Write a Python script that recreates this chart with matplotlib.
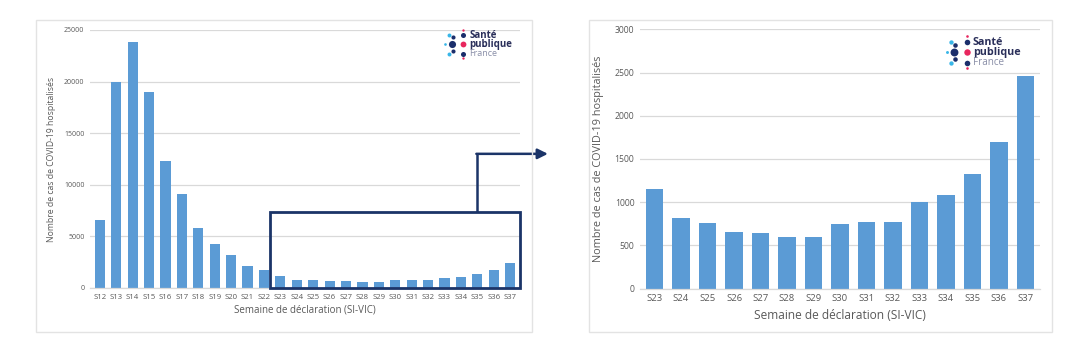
import matplotlib
matplotlib.use("Agg")
import matplotlib.pyplot as plt
from matplotlib.patches import Rectangle

plt.rcParams['font.family'] = ['Open Sans', 'DejaVu Sans']

# ---- data ----
weeks_all = ["S12", "S13", "S14", "S15", "S16", "S17", "S18", "S19", "S20", "S21", "S22",
             "S23", "S24", "S25", "S26", "S27", "S28", "S29", "S30", "S31", "S32",
             "S33", "S34", "S35", "S36", "S37"]
cases_early = [6550, 20000, 23800, 19000, 12300, 9150, 5850, 4250, 3200, 2150, 1700]
weeks_zoom = ["S23", "S24", "S25", "S26", "S27", "S28", "S29", "S30", "S31", "S32",
              "S33", "S34", "S35", "S36", "S37"]
cases_zoom = [1150, 815, 760, 660, 640, 595, 595, 745, 770, 775, 1000, 1080, 1330, 1700, 2460]
cases_all = cases_early + cases_zoom

left_yticks = [0, 5000, 10000, 15000, 20000, 25000]
right_yticks = [0, 500, 1000, 1500, 2000, 2500, 3000]

BAR = '#5B9BD5'
GRID = '#D9D9D9'
TXT = '#595959'
NAVY = '#1B3468'
W, H = 1080, 364

fig = plt.figure(figsize=(W / 100, H / 100), dpi=100)
fig.patch.set_facecolor('white')


def fr(x, y):
    return x / W, 1 - y / H


# panel borders
for (x0, y0, x1, y1) in [(36, 20, 532, 332), (589, 20, 1052, 332)]:
    fig.add_artist(Rectangle(fr(x0, y1), (x1 - x0) / W, (y1 - y0) / H,
                             transform=fig.transFigure, fill=False,
                             ec='#E3E3E3', lw=1.0))


def style(ax, ticks, ylim, tick_fs, label_fs):
    ax.set_ylim(*ylim)
    ax.set_yticks(ticks)
    ax.set_yticklabels([str(t) for t in ticks], fontsize=tick_fs - 0.6, color=TXT)
    ax.yaxis.grid(True, color=GRID, lw=0.9)
    ax.set_axisbelow(True)
    for s in ['top', 'right', 'left']:
        ax.spines[s].set_visible(False)
    ax.spines['bottom'].set_color(GRID)
    ax.spines['bottom'].set_linewidth(0.9)
    ax.tick_params(length=0, pad=4)
    ax.tick_params(axis='x', labelsize=tick_fs, labelcolor=TXT)
    ax.set_ylabel("Nombre de cas de COVID-19 hospitalisés", fontsize=label_fs - 0.8,
                  color=TXT)
    ax.set_xlabel("Semaine de déclaration (SI-VIC)", fontsize=label_fs, color=TXT)


def logo(cx, cy, s):
    dots = [(0, 0, 36, '#1B2E6B'), (12, 0, 24, '#E8265E'), (-7, 0, 5, '#38B6E8'),
            (-3, -10, 11, '#38B6E8'), (1, -7, 12, '#1B2E6B'), (12, -10, 18, '#1B2E6B'),
            (12, -15, 4, '#E8265E'), (1, 7, 12, '#1B2E6B'), (-3, 10, 11, '#38B6E8'),
            (12, 10, 18, '#1B2E6B'), (12, 15, 4, '#E8265E')]
    for dx, dy, sz, c in dots:
        fig.add_artist(plt.Line2D([fr(cx + dx * s, 0)[0]], [fr(0, cy + dy * s)[1]],
                                  marker='o', ms=(sz ** 0.5) * s * 0.9, color=c,
                                  mec='none', transform=fig.transFigure))
    tx = cx + 18 * s
    fig.text(*fr(tx, cy - 9 * s), "Santé", fontsize=7.4 * s, fontweight='bold',
             color='#2A2F5A', va='center', ha='left')
    fig.text(*fr(tx, cy + 0.5 * s), "publique", fontsize=7.4 * s, fontweight='bold',
             color='#2A2F5A', va='center', ha='left')
    fig.text(*fr(tx, cy + 10 * s), "France", fontsize=6.8 * s, color='#8A8FA8',
             va='center', ha='left')


# ---- left chart ----
axL = fig.add_axes([90 / W, 1 - 288 / H, 430 / W, 258 / H])
axL.bar(range(len(weeks_all)), cases_all, width=0.62, color=BAR)
axL.set_xticks(range(len(weeks_all)))
axL.set_xticklabels(weeks_all)
axL.set_xlim(-0.6, 25.6)
style(axL, left_yticks, (0, 25000), 5.6, 7.0)
axL.yaxis.labelpad = 6
axL.xaxis.labelpad = 3

# highlight box and arrow
axL.add_patch(Rectangle((10.35, 0), 25.6 - 10.35, 7350, fill=False, ec=NAVY,
                        lw=2.0, clip_on=False, zorder=5))
axL.plot([23, 23], [7350, 13000], color=NAVY, lw=1.8, clip_on=False, zorder=5,
         solid_capstyle='butt')
axL.annotate('', xy=(27.3, 13000), xytext=(22.94, 13000),
             arrowprops=dict(arrowstyle='-|>', color=NAVY, lw=1.8,
                             mutation_scale=15, shrinkA=0, shrinkB=0),
             annotation_clip=False, zorder=5)

# ---- right chart ----
axR = fig.add_axes([640 / W, 1 - 288.7 / H, 400 / W, 259.4 / H])
axR.bar(range(len(weeks_zoom)), cases_zoom, width=0.65, color=BAR)
axR.set_xticks(range(len(weeks_zoom)))
axR.set_xticklabels(weeks_zoom)
axR.set_xlim(-0.55, 14.55)
style(axR, right_yticks, (0, 3000), 6.8, 8.6)
axR.yaxis.labelpad = 8
axR.xaxis.labelpad = 4

logo(452, 44, 0.95)
logo(954, 52, 1.05)

fig.savefig('out.png', dpi=100, facecolor='white')
